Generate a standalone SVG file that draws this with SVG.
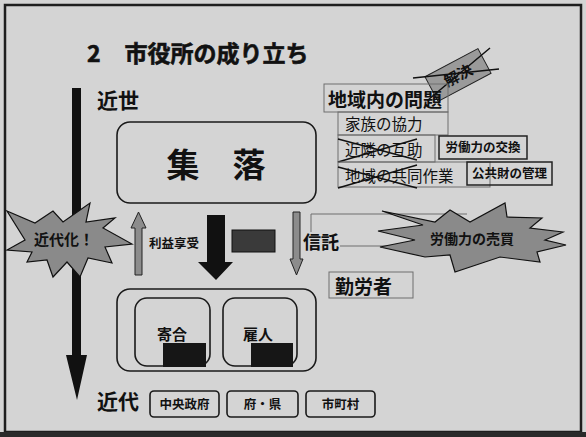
<svg xmlns="http://www.w3.org/2000/svg" width="586" height="437" viewBox="0 0 586 437">
<style>
.t{font-family:"Noto Sans CJK JP","Noto Sans CJK SC",sans-serif;font-weight:bold;fill:#111}
.r{font-family:"Noto Sans CJK JP","Noto Sans CJK SC",sans-serif;font-weight:normal;fill:#111}
.box{fill:none;stroke:#1a1a1a;stroke-width:1.6}
.thin{fill:none;stroke:#6e6e6e;stroke-width:1}
.dbox{fill:none;stroke:#222;stroke-width:1.5}
.burst{fill:#8a8a8a;stroke:#111;stroke-width:1.2;stroke-linejoin:miter}
.garrow{fill:#8c8c8c;stroke:#222;stroke-width:1}
.x{stroke:#111;stroke-width:1.5;fill:none}
</style>
<rect width="586" height="437" fill="#d4d4d4"/>
<rect x="5" y="5" width="576" height="427" fill="none" stroke="#1e1e1e" stroke-width="2.5"/>
<rect x="0" y="432" width="586" height="5" fill="#2a2a2a"/>

<g id="title"><text class="t" x="87" y="62" font-size="23" stroke="#111" stroke-width="0.6">2<tspan dx="24">市役所の成り立ち</tspan></text></g>

<g id="timeline">
<path d="M72,88 H81 V355 H87 L77,400 L66,355 H72 Z" fill="#111"/>
</g>
<g id="kinsei"><text class="t" x="97" y="108" font-size="21">近世</text></g>
<g id="kindai"><text class="t" x="97" y="409" font-size="21">近代</text></g>

<g id="shuraku">
<rect class="box" x="117" y="122" width="199" height="81" rx="13"/>
<text class="t" x="216" y="177" font-size="33" text-anchor="middle">集　落</text>
</g>

<g id="connectors">
<path class="garrow" d="M135,275 V228 H131 L138.5,212 L146,228 H142 V275 Z"/>
<path d="M207,215 H225 V262 H233 L216,280 L198,262 H207 Z" fill="#111"/>
<path class="garrow" d="M293,212 H300 V259 H303 L296.5,275 L290,259 H293 Z"/>
<path class="thin" d="M311,232 V214 H467"/>
<path class="thin" d="M340,246 H420"/>
</g>

<g id="rieki"><text class="t" x="149" y="248" font-size="12.5">利益享受</text></g>
<g id="redacted"><rect x="232" y="230" width="43" height="22" fill="#3a3a3a" stroke="#111" stroke-width="1"/></g>
<g id="shintaku"><text class="t" x="303" y="249" font-size="18">信託</text></g>

<g id="kindaika">
<polygon class="burst" points="7,211 35,223 53,211 63,222 90,203 86,222 115,218 103,228 132,244 105,247 112,263 88,258 80,277 67,262 53,277 47,260 27,262 32,252 7,250 25,240"/>
<text class="t" x="64" y="245" font-size="15" text-anchor="middle">近代化！</text>
</g>

<g id="baibai">
<polygon class="burst" points="378,231 423,225 382,211 435,222 450,210 470,222 505,203 507,217 542,218 530,228 563,232 545,240 566,245 537,252 540,262 500,257 455,272 450,255 425,257 380,247 415,240"/>
<text class="t" x="472" y="244" font-size="14" text-anchor="middle">労働力の売買</text>
</g>

<g id="kinrousha">
<rect class="thin" x="329" y="272" width="84" height="26"/>
<text class="t" x="335" y="294" font-size="19">勤労者</text>
</g>

<g id="kaiketsu">
<g transform="rotate(-28 458 75)">
<rect x="428" y="61" width="60" height="28" fill="#9a9a9a" stroke="#222" stroke-width="1"/>
<text class="t" x="458" y="81" font-size="15" text-anchor="middle" fill="#222">解決</text>
</g>
<path class="x" d="M413,78 L499,69 M428,100 L490,48"/>
</g>

<g id="mondai">
<rect class="thin" x="324" y="84" width="124" height="28"/>
<text class="t" x="328" y="107" font-size="19">地域内の問題</text>
</g>
<g id="kazoku">
<rect class="thin" x="338" y="112" width="110" height="23"/>
<text class="r" x="345" y="130" font-size="15.5">家族の協力</text>
</g>
<g id="kinrin">
<rect class="thin" x="338" y="135" width="97" height="27"/>
<text class="r" x="345" y="156" font-size="15.5">近隣の互助</text>
<path class="x" d="M338,139 L417,160 M338,162 L417,139"/>
</g>
<g id="koukan">
<rect class="dbox" x="439" y="136" width="88" height="23"/>
<text class="t" x="483" y="152" font-size="12.5" text-anchor="middle">労働力の交換</text>
</g>
<g id="kyoudou">
<rect class="thin" x="338" y="162" width="152" height="25"/>
<text class="r" x="345" y="182" font-size="15.5">地域の共同作業</text>
<path class="x" d="M338,167 L417,188 M338,188 L417,165"/>
</g>
<g id="kanri">
<rect class="dbox" x="467" y="162" width="85" height="23"/>
<text class="t" x="509.5" y="178" font-size="12.5" text-anchor="middle">公共財の管理</text>
</g>

<g id="soshiki">
<rect class="box" x="117" y="289" width="199" height="82" rx="13"/>
</g>
<g id="yoriai">
<rect class="box" x="135" y="298" width="75" height="68" rx="12"/>
<text class="t" x="172" y="340" font-size="15" text-anchor="middle">寄合</text>
<rect x="163" y="343" width="43" height="24" fill="#161616"/>
</g>
<g id="yatoinin">
<rect class="box" x="223" y="298" width="74" height="68" rx="12"/>
<text class="t" x="258" y="340" font-size="15" text-anchor="middle">雇人</text>
<rect x="251" y="343" width="42" height="24" fill="#161616"/>
</g>

<g id="chuou">
<rect class="box" x="150" y="391" width="69" height="26" rx="4"/>
<text class="t" x="184.5" y="409" font-size="12.5" text-anchor="middle">中央政府</text>
</g>
<g id="fuken">
<rect class="box" x="227" y="391" width="71" height="26" rx="4"/>
<text class="t" x="262.5" y="409" font-size="12.5" text-anchor="middle">府・県</text>
</g>
<g id="shichouson">
<rect class="box" x="306" y="391" width="69" height="26" rx="4"/>
<text class="t" x="340.5" y="409" font-size="12.5" text-anchor="middle">市町村</text>
</g>
</svg>
